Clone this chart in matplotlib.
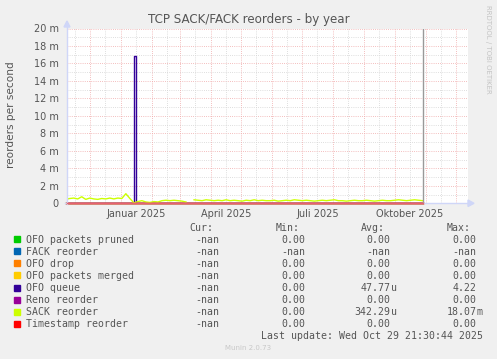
import numpy as np
import pandas as pd
import matplotlib
matplotlib.use("Agg")
import matplotlib.pyplot as plt
import matplotlib.dates as mdates
from matplotlib.patches import Rectangle, Polygon
from matplotlib.lines import Line2D

W, H = 497, 359

# ---- data (values in milli-reorders per second) ---------------------------
sack_start = "2024-11-07"          # one point every 4 days
sack_vals = [
    0.45, 0.55, 0.6, 0.5, 0.75, 0.45, 0.6, 0.5, 0.45, 0.55,
    0.5, 0.6, 0.5, 0.6, 0.55, 1.1, 0.55, 0.05, 0.2, 0.3,
    0.15, 0.1, 0.2, 0.15, 0.3, 0.35, 0.3, 0.35, 0.3, 0.25,
    0.15, np.nan, 0.4,
    0.35, 0.3, 0.4, 0.35, 0.3, 0.35, 0.3, 0.4, 0.3, 0.35,
    0.3, 0.25, 0.35, 0.3, 0.4, 0.3, 0.35, 0.3, 0.3, 0.35,
    0.25, 0.3, 0.35, 0.3, 0.4, 0.35, 0.3, 0.35, 0.3, 0.25,
    0.3, 0.35, 0.3, 0.35, 0.4, 0.3, 0.3, 0.25, 0.3, 0.35,
    0.3, 0.3, 0.35, 0.3, 0.25, 0.3, 0.35, 0.3, 0.3, 0.35,
    0.4, 0.35, 0.3, 0.35, 0.4, 0.35, 0.3,
]
ofo_dates = ["2024-11-07", "2025-01-14", "2025-01-16", "2025-10-29"]
ofo_vals = [0.0, 16.9, 0.0, 0.0]

data_start, data_end = "2024-11-07", "2025-10-29 21:30"
x_start, x_end = "2024-11-08 07:00", "2025-12-13 07:00"

names = ["OFO packets pruned", "FACK reorder", "OFO drop", "OFO packets merged",
         "OFO queue", "Reno reorder", "SACK reorder", "Timestamp reorder"]
colors = ["#00CC00", "#0066B3", "#FF8000", "#FFCC00",
          "#330099", "#990099", "#CCFF00", "#FF0000"]
cur = ["-nan"] * 8
mins = ["0.00", "-nan", "0.00", "0.00", "0.00", "0.00", "0.00", "0.00"]
avgs = ["0.00", "-nan", "0.00", "0.00", "47.77u", "0.00", "342.29u", "0.00"]
maxs = ["0.00", "-nan", "0.00", "0.00", "4.22", "0.00", "18.07m", "0.00"]

month_labels = ["Januar 2025", "April 2025", "Juli 2025", "Oktober 2025"]
month_label_dates = ["2025-01-16", "2025-04-16", "2025-07-16", "2025-10-16"]

TXT = "#555555"
AXIS = "#CFD6F8"


def fx(x):
    return x / W


def fy(y):
    return 1 - y / H


fig = plt.figure(figsize=(W / 100, H / 100), dpi=100, facecolor="#F0F0F0")
L, R, T, B = 67, 468, 28.5, 203.3
ax = fig.add_axes([fx(L), fy(B), fx(R) - fx(L), fy(T) - fy(B)])
ax.set_facecolor("white")
for s in ax.spines.values():
    s.set_visible(False)

x0, x1 = pd.Timestamp(x_start), pd.Timestamp(x_end)
ax.set_xlim(x0, x1)
ax.set_ylim(0, 20)

# grid
dotted = (0, (1, 1.6))
for v in range(1, 20, 2):
    ax.axhline(v, color="#D4D4D4", lw=0.6, ls=dotted, zorder=0)
for v in range(2, 21, 2):
    ax.axhline(v, color="#F0A8A8", lw=0.6, ls=dotted, zorder=0)
months = pd.date_range("2024-11-01", "2025-12-31", freq="MS")
for m in months:
    mid = m + pd.Timedelta(days=15)
    if x0 < mid < x1:
        ax.axvline(mid, color="#D4D4D4", lw=0.6, ls=dotted, zorder=0)
    if x0 < m < x1:
        ax.axvline(m, color="#F0A8A8", lw=0.6, ls=dotted, zorder=0)

# series
zero_x = [pd.Timestamp(data_start), pd.Timestamp(data_end)]
for i, (n, c) in enumerate(zip(names, colors)):
    if n == "FACK reorder":
        continue
    if n == "OFO queue":
        ax.plot(pd.to_datetime(ofo_dates), ofo_vals, color=c, lw=1.0,
                drawstyle="steps-post", zorder=3 + i)
    elif n == "SACK reorder":
        sx = pd.date_range(sack_start, periods=len(sack_vals), freq="4D")
        ax.plot(sx, sack_vals, color=c, lw=1.0, zorder=3 + i)
    else:
        ax.plot(zero_x, [0, 0], color=c, lw=1.0, zorder=3 + i, clip_on=False)

ax.axvline(pd.Timestamp(data_end), color="#999999", lw=1.0, zorder=20)

# ticks
yt = list(range(0, 21, 2))
ax.set_yticks(yt)
ax.set_yticklabels(["0" if v == 0 else f"{v} m" for v in yt])
ax.set_xticks(pd.to_datetime(month_label_dates))
ax.set_xticklabels(month_labels)
ax.tick_params(length=0, labelsize=7, colors=TXT)
ax.tick_params(axis="y", pad=6)
ax.tick_params(axis="x", pad=4)

# axes with arrows
fig.add_artist(Line2D([fx(L), fx(L)], [fy(B + 1), fy(24)], color=AXIS, lw=1))
fig.add_artist(Line2D([fx(L - 2), fx(470)], [fy(B), fy(B)], color=AXIS, lw=1, zorder=1))
fig.add_artist(Polygon([(fx(64), fy(27)), (fx(70), fy(27)), (fx(67), fy(21))],
                       closed=True, color=AXIS))
fig.add_artist(Polygon([(fx(468), fy(200)), (fx(468), fy(206.5)), (fx(474), fy(203.3))],
                       closed=True, color=AXIS))
# redraw red zero line above the axis line
fig.add_artist(Line2D([fx(L), fx(423)], [fy(B), fy(B)], color="#FF0000", lw=1, alpha=0.55))

# labels
fig.text(0.5, fy(19), "TCP SACK/FACK reorders - by year", ha="center", va="center",
         fontsize=8.6, color=TXT)
fig.text(fx(11), fy(115), "reorders per second", rotation=90, ha="center", va="center",
         fontsize=7.6, color=TXT)
fig.text(fx(488), fy(5), "RRDTOOL / TOBI OETIKER", rotation=270, ha="center", va="top",
         fontsize=5, color="#C4C4C4")

# legend
mono = dict(family="DejaVu Sans Mono", fontsize=7.1, color=TXT)
base = 3.6
col_right = [219.7, 305.7, 390.7, 476.7]
for hdr, xr in zip(["Cur:", "Min:", "Avg:", "Max:"], col_right):
    fig.text(fx(xr - 6.3), fy(227.3 + base), hdr, ha="right", va="baseline", **mono)


def val_text(xr, yc, s):
    suf = s[-1] if s[-1] in "um" else ""
    num = s[:-1] if suf else s
    fig.text(fx(xr), fy(yc + base), num, ha="right", va="baseline", **mono)
    if suf:
        fig.text(fx(xr), fy(yc + base), suf, ha="left", va="baseline", **mono)


for i, n in enumerate(names):
    yc = 239.3 + i * 12.05
    fig.add_artist(Rectangle((fx(14.3), fy(yc + 3)), fx(6), 6 / H, color=colors[i]))
    fig.text(fx(26), fy(yc + base), n, ha="left", va="baseline", **mono)
    for xr, col in zip(col_right, [cur, mins, avgs, maxs]):
        val_text(xr, yc, col[i])

fig.text(fx(483), fy(335.7 + base), "Last update: Wed Oct 29 21:30:44 2025",
         ha="right", va="baseline", **mono)
fig.text(0.5, fy(347.7), "Munin 2.0.73", ha="center", va="center",
         fontsize=5, color="#C8C8C8")

fig.savefig("out.png", dpi=100, facecolor=fig.get_facecolor())
